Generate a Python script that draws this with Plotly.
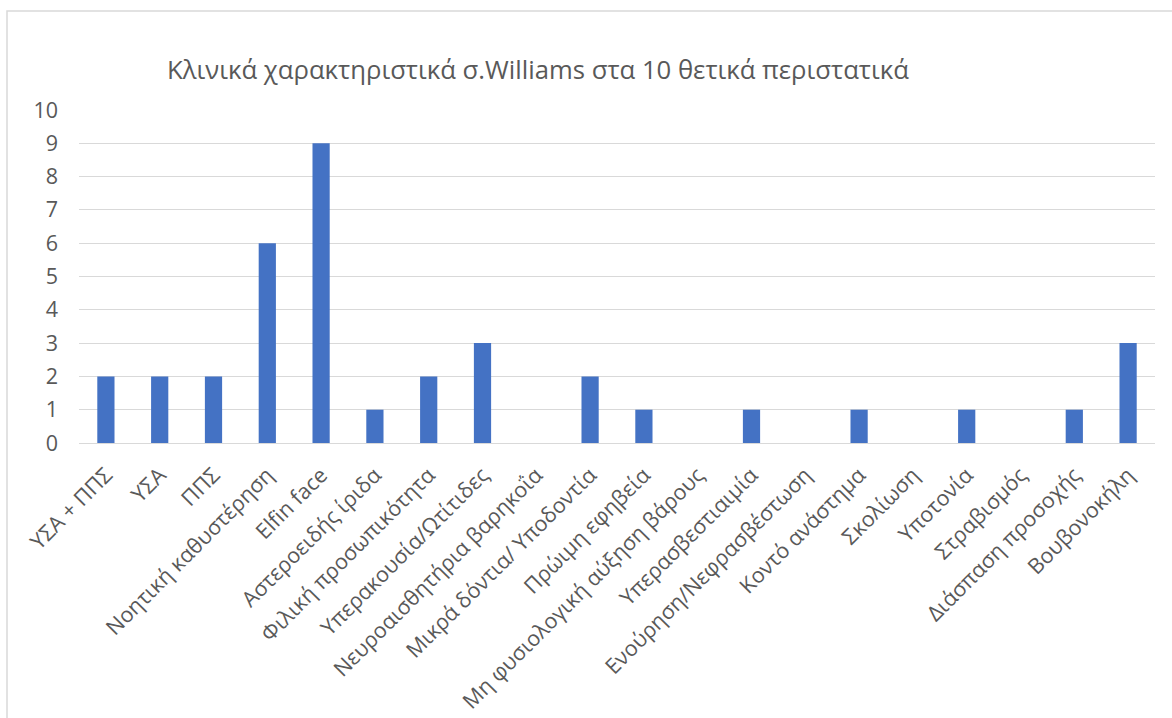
import plotly.graph_objects as go

# Clinical features and counts among the 10 positive cases
features = [
    "ΥΣΑ + ΠΠΣ", "ΥΣΑ", "ΠΠΣ", "Νοητική καθυστέρηση", "Elfin face",
    "Αστεροειδής ίριδα", "Φιλική προσωπικότητα", "Υπερακουσία/Ωτίτιδες",
    "Νευροαισθητήρια βαρηκοΐα", "Μικρά δόντια/ Υποδοντία", "Πρώιμη εφηβεία",
    "Μη φυσιολογική αύξηση βάρους", "Υπερασβεστιαιμία", "Ενούρηση/Νεφρασβέστωση",
    "Κοντό ανάστημα", "Σκολίωση", "Υποτονία", "Στραβισμός",
    "Διάσπαση προσοχής", "Βουβονοκήλη",
]
counts = [2, 2, 2, 6, 9, 1, 2, 3, 0, 2, 1, 0, 1, 0, 1, 0, 1, 0, 1, 3]
y_ticks = list(range(0, 11))

title_text = "Κλινικά χαρακτηριστικά σ.Williams στα 10 θετικά περιστατικά"

W, H = 1172, 718
L, R, T, B = 79, 17, 110, 275
pw, ph = W - L - R, H - T - B

FONT = "Open Sans, sans-serif"
GREY = "#595959"

fig = go.Figure(
    go.Bar(
        x=features,
        y=counts,
        marker=dict(color="#4472C4", line=dict(width=0)),
        width=0.32,
    )
)

def px_x(x):
    return (x - L) / pw

def px_y(y):
    return (H - B - y) / ph

fig.update_layout(
    width=W,
    height=H,
    margin=dict(l=L, r=R, t=T, b=B, autoexpand=False),
    paper_bgcolor="white",
    plot_bgcolor="white",
    showlegend=False,
    font=dict(family=FONT, color=GREY, size=21),
    title=dict(
        text=title_text,
        x=px_x(538), xanchor="center", xref="paper",
        y=1 - 70 / H, yanchor="middle",
        font=dict(family=FONT, size=25.7, color=GREY),
    ),
    xaxis=dict(
        tickangle=-45,
        automargin=False,
        showgrid=False,
        showline=True,
        linecolor="#d9d9d9",
        linewidth=1,
        ticks="",
        ticklabelstandoff=10,
        tickfont=dict(size=21.5, color=GREY),
    ),
    yaxis=dict(
        range=[0, 10],
        automargin=False,
        tickvals=y_ticks,
        showgrid=True,
        gridcolor="#d9d9d9",
        gridwidth=1,
        zeroline=False,
        ticks="",
        ticklabelstandoff=20,
        tickfont=dict(size=21.5, color=GREY),
    ),
    shapes=[
        dict(
            type="rect", xref="paper", yref="paper",
            x0=px_x(7), x1=px_x(1185), y0=px_y(740), y1=px_y(11),
            line=dict(color="#d9d9d9", width=1.5),
            fillcolor="rgba(0,0,0,0)", layer="below",
        )
    ],
)

fig.write_html("out.html")
